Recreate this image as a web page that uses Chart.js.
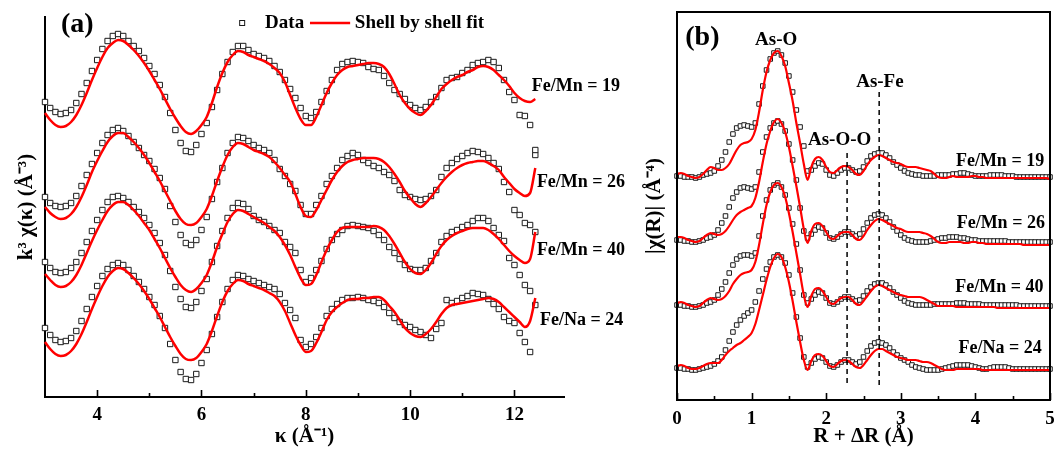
<!DOCTYPE html>
<html>
<head>
<meta charset="utf-8">
<title>EXAFS fits</title>
<script src="https://cdn.jsdelivr.net/npm/chart.js@4.4.0/dist/chart.umd.min.js"></script>
<style>
  html, body { margin: 0; padding: 0; background: #fff; }
  #wrap { position: relative; width: 1056px; height: 449px; overflow: hidden; }
  canvas { position: absolute; top: 0; }
  #chartK { left: 0; }
  #chartR { left: 630px; }
</style>
</head>
<body>
<div id="wrap">
  <canvas id="chartK" width="640" height="449"></canvas>
  <canvas id="chartR" width="426" height="449"></canvas>
</div>
<script>
// ---- (a) k-space: k^3 chi(k), curves stacked by offset ----
const kGrid = [3.0,3.1,3.2,3.3,3.4,3.5,3.6,3.7,3.8,3.9,
  4.0,4.1,4.2,4.3,4.4,4.5,4.6,4.7,4.8,4.9,
  5.0,5.1,5.2,5.3,5.4,5.5,5.6,5.7,5.8,5.9,
  6.0,6.1,6.2,6.3,6.4,6.5,6.6,6.7,6.8,6.9,
  7.0,7.1,7.2,7.3,7.4,7.5,7.6,7.7,7.8,7.9,
  8.0,8.1,8.2,8.3,8.4,8.5,8.6,8.7,8.8,8.9,
  9.0,9.1,9.2,9.3,9.4,9.5,9.6,9.7,9.8,9.9,
  10.0,10.1,10.2,10.3,10.4,10.5,10.6,10.7,10.8,10.9,
  11.0,11.1,11.2,11.3,11.4,11.5,11.6,11.7,11.8,11.9,
  12.0,12.1,12.2,12.3,12.4];

const kData19 = [-1.5,-2.1,-2.5,-2.7,-2.6,-2.3,-1.6,-0.7,0.4,1.6,
  2.7,3.8,4.6,5.1,5.3,5.1,4.6,4.1,3.6,2.9,
  2.1,1.3,0.2,-1.0,-2.6,-4.3,-5.6,-6.4,-6.5,-5.8,
  -4.7,-3.6,-2.0,-0.3,1.3,2.5,3.5,4.1,4.1,3.7,
  3.3,3.1,2.9,2.6,2.1,1.5,0.7,-0.2,-1.1,-2.1,
  -2.9,-3.1,-2.5,-1.5,-0.4,0.7,1.7,2.3,2.5,2.6,
  2.5,2.4,2.0,1.8,1.7,1.1,0.4,-0.3,-0.7,-1.2,
  -1.8,-2.1,-2.3,-2.0,-1.5,-1.0,-0.1,0.7,0.9,1.0,
  1.4,1.7,2.2,2.4,2.5,2.7,2.5,1.9,0.7,-0.5,
  -1.3,-2.8,-2.9,-3.8,-6.3];
const kFit19 = [-2.6,-3.3,-3.8,-4.0,-3.9,-3.5,-2.8,-1.8,-0.6,0.7,
  1.9,3.0,3.9,4.4,4.7,4.6,4.2,3.7,3.1,2.4,
  1.6,0.7,-0.2,-1.2,-2.2,-3.1,-3.9,-4.5,-4.7,-4.4,
  -3.8,-3.0,-1.6,0.0,1.4,2.5,3.2,3.6,3.5,3.2,
  3.0,2.8,2.6,2.3,1.9,1.4,0.5,-0.8,-2.1,-3.2,
  -3.8,-3.8,-3.0,-1.8,-0.6,0.4,1.2,1.7,2.0,2.1,
  2.2,2.3,2.4,2.4,2.3,2.0,1.3,0.3,-0.8,-1.6,
  -2.2,-2.6,-2.8,-2.4,-1.8,-1.0,-0.2,0.3,0.7,1.0,
  1.2,1.5,1.7,2.0,2.1,2.0,1.7,1.2,0.7,0.1,
  -0.6,-1.1,-1.4,-1.5,-1.2];

const kData26 = [-1.6,-2.2,-2.5,-2.6,-2.5,-2.2,-1.5,-0.5,0.6,1.7,
  2.8,3.8,4.6,5.1,5.3,5.0,4.5,3.9,3.3,2.6,
  2.0,1.2,0.3,-0.8,-2.5,-4.1,-5.4,-6.2,-6.4,-5.9,
  -4.9,-3.6,-1.8,-0.1,1.3,2.8,3.8,4.4,4.3,4.0,
  3.6,3.3,3.1,2.8,2.1,1.2,0.5,-0.3,-1.0,-2.4,
  -3.3,-3.3,-2.4,-1.5,-0.3,0.5,1.3,2.1,2.5,2.8,
  2.6,2.1,1.8,1.5,1.3,0.9,0.6,0.0,-0.9,-1.4,
  -1.6,-1.8,-1.9,-1.8,-1.5,-0.9,0.4,1.3,1.8,2.2,
  2.5,2.8,3.0,2.9,2.7,2.3,1.8,1.2,-0.1,-1.1,
  -2.9,-3.4,-4.2,-4.4,2.6];
const kFit26 = [-2.6,-3.2,-3.6,-3.8,-3.7,-3.3,-2.6,-1.6,-0.4,0.9,
  2.0,3.0,3.9,4.5,4.8,4.8,4.4,3.9,3.3,2.6,
  1.8,0.9,0.0,-1.0,-2.0,-3.0,-3.8,-4.3,-4.4,-4.2,
  -3.6,-2.8,-1.5,0.0,1.4,2.6,3.4,3.8,3.7,3.4,
  3.1,2.9,2.7,2.4,1.9,1.3,0.6,-0.1,-1.3,-2.6,
  -3.5,-3.6,-2.9,-1.9,-0.9,0.1,0.9,1.5,1.9,2.1,
  2.2,2.3,2.3,2.3,2.2,1.9,1.4,0.7,-0.1,-1.0,
  -1.7,-2.3,-2.6,-2.2,-1.6,-0.9,-0.2,0.4,0.9,1.3,
  1.6,1.8,1.9,2.0,2.0,1.8,1.5,1.1,0.4,-0.2,
  -0.8,-1.2,-1.5,-1.2,1.3];

const kData40 = [-1.8,-2.4,-2.8,-2.9,-2.8,-2.4,-1.8,-0.9,0.2,1.3,
  2.4,3.4,4.2,4.7,4.8,4.6,4.2,3.7,3.2,2.6,
  1.9,1.1,0.1,-1.1,-2.7,-4.3,-5.5,-6.3,-6.4,-5.8,
  -4.7,-3.5,-1.8,-0.2,1.3,2.6,3.6,4.1,4.0,3.5,
  2.8,2.4,2.2,1.8,1.4,1.1,0.2,-0.3,-0.9,-2.6,
  -3.8,-3.4,-2.6,-1.7,-0.5,0.4,1.0,1.4,1.8,1.9,
  1.8,1.7,1.6,1.3,0.9,0.4,-0.3,-0.9,-1.5,-2.1,
  -2.5,-2.6,-2.6,-2.4,-1.7,-0.9,0.2,0.8,1.2,1.4,
  1.7,1.9,2.3,2.6,2.6,2.3,1.6,0.9,0.3,-1.4,
  -2.1,-3.1,-4.1,-4.7,1.2];
const kFit40 = [-3.0,-3.6,-4.1,-4.3,-4.2,-3.8,-3.1,-2.1,-0.9,0.3,
  1.4,2.4,3.3,3.9,4.2,4.2,3.9,3.4,2.8,2.1,
  1.4,0.5,-0.4,-1.4,-2.4,-3.3,-4.1,-4.6,-4.8,-4.5,
  -3.9,-3.1,-1.8,-0.3,1.0,2.2,3.0,3.4,3.3,3.0,
  2.7,2.4,2.1,1.7,1.3,0.7,-0.1,-1.1,-2.3,-3.4,
  -4.1,-4.0,-3.1,-1.8,-0.6,0.4,1.2,1.6,1.7,1.7,
  1.7,1.7,1.7,1.8,1.7,1.4,0.8,0.0,-0.9,-1.8,
  -2.5,-2.9,-3.0,-2.6,-1.9,-1.0,-0.2,0.4,0.8,1.1,
  1.3,1.5,1.6,1.6,1.6,1.4,1.0,0.5,-0.1,-0.7,
  -1.2,-1.6,-1.9,-1.5,1.2];

const kDataNa = [-1.3,-2.0,-2.5,-2.7,-2.6,-2.3,-1.6,-0.6,0.6,1.8,
  2.9,3.9,4.6,5.0,5.2,5.0,4.5,3.9,3.3,2.6,
  1.8,1.0,-0.1,-1.3,-2.9,-4.5,-5.7,-6.4,-6.5,-5.9,
  -4.8,-3.5,-1.9,-0.2,1.3,2.6,3.5,4.0,3.9,3.6,
  3.4,3.2,3.0,2.8,2.6,2.1,1.2,0.5,-0.3,-2.5,
  -3.2,-2.9,-2.2,-1.3,-0.1,0.6,1.1,1.5,1.7,1.7,
  1.8,1.7,1.5,1.4,1.2,0.8,0.2,-0.3,-0.7,-1.0,
  -1.2,-1.5,-1.7,-2.0,-2.3,-1.4,-0.8,1.5,1.2,1.4,
  1.7,1.9,2.2,2.1,2.0,1.6,1.1,0.6,-0.2,-0.6,
  -0.8,-1.8,-2.7,-3.7,1.0];
const kFitNa = [-2.7,-3.4,-3.9,-4.1,-4.0,-3.6,-2.9,-1.9,-0.7,0.6,
  1.8,2.9,3.8,4.4,4.7,4.6,4.2,3.7,3.1,2.4,
  1.6,0.7,-0.2,-1.2,-2.2,-3.1,-3.9,-4.4,-4.5,-4.3,
  -3.7,-2.9,-1.6,-0.1,1.3,2.4,3.1,3.5,3.4,3.1,
  2.9,2.7,2.5,2.2,1.9,1.3,0.4,-0.8,-2.0,-3.0,
  -3.7,-3.6,-2.8,-1.7,-0.5,0.3,0.8,1.2,1.5,1.6,
  1.6,1.7,1.7,1.8,1.8,1.5,0.9,0.3,-0.5,-1.3,
  -1.8,-2.1,-2.2,-1.9,-1.4,-0.7,0.1,0.7,1.0,1.1,
  1.2,1.3,1.4,1.5,1.6,1.7,1.6,1.3,0.8,0.3,
  -0.2,-0.7,-1.2,-0.6,1.7];

const kOffsets = [31.0, 21.6, 15.3, 8.2];
const kTicks = [4, 6, 8, 10, 12];
const kMinorTicks = [5, 7, 9, 11];

// ---- (b) R-space: |chi(R)| ----
const rGrid = [0,0.05,0.1,0.15,0.2,0.25,0.3,0.35,0.4,0.45,
  0.5,0.55,0.6,0.65,0.7,0.75,0.8,0.85,0.9,0.95,
  1.0,1.05,1.1,1.15,1.2,1.25,1.3,1.35,1.4,1.45,
  1.5,1.55,1.6,1.65,1.7,1.75,1.8,1.85,1.9,1.95,
  2.0,2.05,2.1,2.15,2.2,2.25,2.3,2.35,2.4,2.45,
  2.5,2.55,2.6,2.65,2.7,2.75,2.8,2.85,2.9,2.95,
  3.0,3.05,3.1,3.15,3.2,3.25,3.3,3.35,3.4,3.45,
  3.5,3.55,3.6,3.65,3.7,3.75,3.8,3.85,3.9,3.95,
  4.0,4.05,4.1,4.15,4.2,4.25,4.3,4.35,4.4,4.45,
  4.5,4.55,4.6,4.65,4.7,4.75,4.8,4.85,4.9,4.95,5.0];

const rData19 = [0,0,-0.1,-0.1,-0.1,-0.2,-0.1,0.1,0.2,0.3,
  0.5,1.0,1.6,2.4,3.4,4.2,4.8,5.0,5.1,5.0,
  4.9,5.3,7.2,9.0,10.6,11.7,12.3,12.5,12.1,11.3,
  10.0,8.4,6.6,4.9,3.0,0.5,0.6,1.0,1.3,1.2,
  0.6,0.1,0.0,0.3,0.6,0.8,0.8,0.6,0.4,0.5,
  0.9,1.5,2.0,2.2,2.3,2.3,2.1,1.8,1.4,1.1,
  0.8,0.5,0.3,0.2,0.1,0.1,0.0,0.0,0.0,0.0,
  0.1,0.1,0.1,0.1,0.2,0.2,0.3,0.3,0.2,0.1,
  0.0,0.0,0.0,0.0,0.1,0.1,0.1,0.1,0.0,0.0,
  0.0,-0.1,-0.1,-0.1,-0.1,-0.1,-0.1,-0.1,-0.1,-0.1,-0.1];
const rFit19 = [0.2,0.3,0.2,0.0,-0.1,-0.2,-0.1,0.2,0.6,0.9,
  0.8,0.6,0.6,0.8,1.2,1.9,2.6,3.1,3.3,3.4,
  3.7,4.6,6.4,8.6,10.4,11.6,12.3,12.5,12.0,11.0,
  9.3,7.5,5.3,3.3,1.2,-0.4,0.9,1.7,1.9,1.6,
  0.9,0.4,0.3,0.6,0.9,1.0,0.9,0.6,0.2,0.1,
  0.5,1.1,1.6,1.9,2.1,2.0,1.8,1.6,1.4,1.3,
  1.2,1.0,0.9,0.9,0.9,0.8,0.7,0.6,0.5,0.2,
  -0.1,-0.2,-0.2,-0.1,0.0,-0.1,-0.1,-0.1,-0.1,0.0,
  0.0,-0.1,-0.1,-0.2,-0.2,-0.2,-0.2,-0.2,-0.2,-0.2,
  -0.2,-0.2,-0.2,-0.2,-0.2,-0.2,-0.2,-0.2,-0.2,-0.2,-0.3];

const rData26 = [0,0,-0.1,-0.1,-0.2,-0.2,-0.1,0.0,0.2,0.3,
  0.5,1.0,1.7,2.4,3.3,4.2,4.8,5.2,5.3,5.2,
  5.1,5.3,6.8,8.8,10.3,11.2,11.7,11.9,11.6,10.9,
  9.6,8.0,6.0,3.2,0.9,0.2,0.6,1.0,1.3,1.2,
  0.7,0.2,0.1,0.3,0.6,0.8,0.8,0.6,0.4,0.6,
  1.1,1.7,2.2,2.5,2.6,2.5,2.2,1.8,1.3,0.9,
  0.5,0.2,0.0,-0.1,-0.2,-0.2,-0.2,-0.2,-0.1,0.0,
  0.1,0.2,0.2,0.3,0.3,0.3,0.2,0.2,0.1,0.0,
  0.0,-0.1,-0.1,-0.1,-0.1,-0.1,-0.1,-0.1,-0.1,-0.2,
  -0.2,-0.2,-0.2,-0.2,-0.2,-0.2,-0.2,-0.2,-0.2,-0.2,-0.2];
const rFit26 = [0.3,0.3,0.2,0.0,-0.1,-0.2,-0.1,0.2,0.5,0.7,
  0.6,0.5,0.6,0.9,1.4,2.0,2.5,2.8,3.0,3.2,
  3.4,4.2,5.8,7.8,9.6,10.9,11.8,12.1,11.7,10.8,
  9.3,7.4,5.4,3.3,1.1,-0.3,0.9,1.6,1.7,1.4,
  0.8,0.2,0.1,0.4,0.7,0.8,0.8,0.5,0.1,0.0,
  0.4,1.0,1.5,1.9,2.1,2.0,1.8,1.6,1.4,1.2,
  1.1,0.9,0.8,0.8,0.8,0.8,0.7,0.6,0.4,0.1,
  -0.2,-0.3,-0.3,-0.2,-0.2,-0.2,-0.2,-0.3,-0.3,-0.2,
  -0.2,-0.3,-0.3,-0.4,-0.4,-0.4,-0.4,-0.4,-0.4,-0.4,
  -0.4,-0.4,-0.4,-0.5,-0.5,-0.5,-0.5,-0.5,-0.5,-0.5,-0.5];

const rData40 = [0,0,-0.1,-0.1,-0.2,-0.2,-0.1,0.0,0.2,0.3,
  0.5,1.0,1.6,2.3,3.2,4.0,4.6,4.9,5.0,5.0,
  4.9,5.2,6.9,8.9,10.5,11.5,12.0,12.2,11.8,11.0,
  9.7,8.1,6.1,3.5,1.0,0.2,0.6,1.0,1.3,1.2,
  0.7,0.2,0.1,0.3,0.6,0.8,0.8,0.6,0.4,0.5,
  0.9,1.4,1.8,2.1,2.2,2.2,2.0,1.7,1.3,1.0,
  0.7,0.4,0.2,0.1,0.0,0.0,0.0,0.0,0.0,0.1,
  0.1,0.1,0.1,0.1,0.1,0.2,0.2,0.2,0.1,0.1,
  0.1,0.1,0.0,0.0,0.0,0.0,0.0,0.0,0.0,0.0,
  0.0,0.0,-0.1,-0.1,-0.1,-0.1,-0.1,-0.1,-0.1,-0.1,-0.1];
const rFit40 = [0.2,0.3,0.2,0.0,-0.1,-0.2,-0.1,0.2,0.5,0.7,
  0.6,0.5,0.6,0.9,1.4,2.1,2.6,3.0,3.2,3.3,
  3.5,4.3,6.0,8.1,10.0,11.3,12.0,12.2,11.8,10.8,
  9.2,7.3,5.2,3.1,1.0,-0.2,0.9,1.6,1.7,1.4,
  0.8,0.2,0.1,0.4,0.7,0.8,0.8,0.5,0.1,0.0,
  0.4,0.9,1.4,1.8,2.0,1.9,1.7,1.5,1.3,1.1,
  1.0,0.9,0.8,0.8,0.8,0.8,0.7,0.5,0.3,0.1,
  -0.1,-0.1,-0.1,-0.1,-0.1,-0.2,-0.2,-0.2,-0.2,-0.2,
  -0.2,-0.2,-0.2,-0.2,-0.2,-0.2,-0.3,-0.3,-0.3,-0.3,
  -0.3,-0.3,-0.3,-0.3,-0.3,-0.3,-0.3,-0.3,-0.3,-0.3,-0.3];

const rDataNa = [0,0,-0.1,-0.1,-0.2,-0.2,-0.1,0.0,0.1,0.2,
  0.4,0.7,1.1,1.8,2.7,3.6,4.3,4.8,5.2,5.5,
  5.8,6.6,7.7,8.9,9.9,10.6,11.1,11.3,11.1,10.5,
  9.3,7.5,5.1,3.0,1.1,0.1,0.5,0.9,1.1,1.0,
  0.6,0.2,0.1,0.3,0.6,0.8,0.8,0.6,0.4,0.6,
  1.1,1.7,2.2,2.5,2.6,2.5,2.3,2.0,1.6,1.3,
  1.0,0.8,0.6,0.3,0.1,0.0,-0.1,-0.2,-0.2,-0.2,
  -0.2,-0.1,0.0,0.1,0.2,0.3,0.3,0.3,0.3,0.2,
  0.1,0.0,-0.1,-0.1,0.0,0.1,0.1,0.1,0.1,0.0,
  -0.1,-0.1,-0.1,-0.1,-0.1,-0.1,-0.1,-0.1,-0.1,-0.1,-0.1];
const rFitNa = [0.2,0.3,0.2,0.0,-0.1,-0.1,0.0,0.2,0.4,0.5,
  0.5,0.5,0.8,1.3,1.7,2.0,2.3,2.5,2.8,3.1,
  3.5,4.4,5.8,7.3,8.8,10.1,11.0,11.4,11.1,10.1,
  8.6,6.7,4.6,2.6,0.8,-0.2,0.7,1.3,1.4,1.2,
  0.7,0.2,0.1,0.4,0.7,0.8,0.7,0.4,0.1,0.0,
  0.3,0.8,1.3,1.7,1.9,1.9,1.7,1.5,1.3,1.1,
  1.0,0.9,0.8,0.8,0.8,0.7,0.6,0.6,0.5,0.3,
  0.1,-0.1,-0.2,-0.2,-0.2,-0.1,-0.1,-0.1,-0.1,-0.1,
  -0.1,-0.1,-0.2,-0.2,-0.2,-0.2,-0.2,-0.2,-0.2,-0.2,
  -0.2,-0.2,-0.2,-0.2,-0.2,-0.2,-0.2,-0.2,-0.2,-0.2,-0.2];

const rOffsets = [22.4, 16.0, 9.5, 3.2];
const rTicks = [0, 1, 2, 3, 4, 5];
const rMinorTicks = [0.5, 1.5, 2.5, 3.5, 4.5];

// shell positions marked with dashed lines
const shellR = [2.28, 2.71];
const shellTop = [24.7, 30.8];
const shellBottom = 1.5;

const sampleNames = ['Fe/Mn = 19', 'Fe/Mn = 26', 'Fe/Mn = 40', 'Fe/Na = 24'];

const SERIF = "'Liberation Serif', 'Times New Roman', serif";
const RED = '#ff0000';
Chart.defaults.font.family = SERIF;
Chart.defaults.color = '#000';

function stack(xs, ys, off) {
  return xs.map((x, i) => ({ x: x, y: ys[i] + off }));
}

function dataSet(xs, ys, off, r) {
  return {
    data: stack(xs, ys, off), showLine: false, order: 2, clip: false,
    pointStyle: 'rect', pointRadius: r, pointBorderWidth: 1,
    pointBorderColor: '#1a1a1a', pointBackgroundColor: '#fff'
  };
}

function fitSet(xs, ys, off, w) {
  return {
    data: stack(xs, ys, off), showLine: true, order: 1, clip: false,
    borderColor: RED, borderWidth: w, pointRadius: 0,
    cubicInterpolationMode: 'monotone'
  };
}

// keep the plot box exactly where the layout padding puts it
function noEdgePad(s) {
  s.paddingLeft = 0;
  s.paddingRight = 0;
}

// inward tick marks, frame, dashed markers and text labels
const decor = {
  id: 'decor',
  afterDatasetsDraw(chart, args, o) {
    const { ctx, chartArea: a, scales: { x, y } } = chart;
    ctx.save();
    ctx.strokeStyle = '#000';
    ctx.lineWidth = 1.6;
    const tick = (v, len) => {
      const px = Math.round(x.getPixelForValue(v)) + 0.5;
      ctx.beginPath(); ctx.moveTo(px, a.bottom); ctx.lineTo(px, a.bottom - len); ctx.stroke();
    };
    o.major.forEach(v => tick(v, 7));
    o.minor.forEach(v => tick(v, 4));
    if (o.box) {
      ctx.lineWidth = 2;
      ctx.strokeRect(a.left, a.top, a.width, a.height);
    }
    (o.dashes || []).forEach(d => {
      const px = x.getPixelForValue(d.x);
      ctx.lineWidth = 1.5;
      ctx.setLineDash([5, 4]);
      ctx.beginPath();
      ctx.moveTo(px, y.getPixelForValue(d.top));
      ctx.lineTo(px, y.getPixelForValue(d.bottom));
      ctx.stroke();
    });
    ctx.setLineDash([]);
    if (o.legend) {
      const L = o.legend;
      const sx = x.getPixelForValue(L.markX), sy = y.getPixelForValue(L.y);
      ctx.lineWidth = 1;
      ctx.strokeStyle = '#1a1a1a';
      ctx.strokeRect(sx - 2.5, sy - 2.5, 5, 5);
      ctx.strokeStyle = RED;
      ctx.lineWidth = 2.5;
      ctx.beginPath();
      ctx.moveTo(x.getPixelForValue(L.lineX[0]), sy);
      ctx.lineTo(x.getPixelForValue(L.lineX[1]), sy);
      ctx.stroke();
    }
    ctx.fillStyle = '#000';
    ctx.textBaseline = 'middle';
    o.labels.forEach(l => {
      ctx.font = 'bold ' + l.size + 'px ' + SERIF;
      ctx.textAlign = l.align || 'center';
      ctx.fillText(l.text, x.getPixelForValue(l.x), y.getPixelForValue(l.y));
    });
    ctx.restore();
  }
};

const tickFont = { family: SERIF, size: 19, weight: 'bold' };
const titleFont = { family: SERIF, size: 21, weight: 'bold' };

// ---------- panel (a) ----------
const dsK = [];
[[kData19, kFit19], [kData26, kFit26], [kData40, kFit40], [kDataNa, kFitNa]].forEach((p, i) => {
  dsK.push(dataSet(kGrid, p[0], kOffsets[i], 3.8));
  dsK.push(fitSet(kGrid, p[1], kOffsets[i], 2.5));
});

new Chart(document.getElementById('chartK'), {
  type: 'scatter',
  data: { datasets: dsK },
  plugins: [decor],
  options: {
    responsive: false, animation: false, devicePixelRatio: 1,
    layout: { padding: { top: 17, right: 76, left: 0, bottom: 0 } },
    plugins: {
      legend: { display: false }, tooltip: { enabled: false },
      decor: {
        major: kTicks, minor: kMinorTicks, box: false,
        legend: { markX: 6.78, y: 37.4, lineX: [8.08, 8.85] },
        labels: [
          { text: '(a)', x: 3.62, y: 37.2, size: 28 },
          { text: 'Data', x: 7.22, y: 37.4, size: 19, align: 'left' },
          { text: 'Shell by shell fit', x: 8.94, y: 37.4, size: 19, align: 'left' },
          { text: sampleNames[0], x: 12.33, y: 31.1, size: 18, align: 'left' },
          { text: sampleNames[1], x: 12.43, y: 21.5, size: 18, align: 'left' },
          { text: sampleNames[2], x: 12.43, y: 14.7, size: 18, align: 'left' },
          { text: sampleNames[3], x: 12.49, y: 7.7, size: 18, align: 'left' }
        ]
      }
    },
    scales: {
      x: {
        type: 'linear', min: 3, max: 12.95,
        afterBuildTicks: s => { s.ticks = kTicks.map(v => ({ value: v })); },
        afterFit: s => { s.height = 52; noEdgePad(s); },
        grid: { display: false, drawTicks: false },
        border: { display: true, color: '#000', width: 2 },
        ticks: { font: tickFont, color: '#000', padding: 7, maxRotation: 0, autoSkip: false },
        title: { display: true, text: 'κ (Å⁻¹)', font: titleFont, color: '#000', padding: { top: 0, bottom: 0 } }
      },
      y: {
        type: 'linear', min: 0, max: 38,
        afterFit: s => { s.width = 45; },
        grid: { display: false, drawTicks: false },
        border: { display: true, color: '#000', width: 2 },
        ticks: { display: false },
        title: { display: true, text: 'k³ χ(κ) (Å⁻³)', font: titleFont, color: '#000', padding: { top: 14, bottom: 0 } }
      }
    }
  }
});

// ---------- panel (b) ----------
const dsR = [];
[[rData19, rFit19], [rData26, rFit26], [rData40, rFit40], [rDataNa, rFitNa]].forEach((p, i) => {
  dsR.push(dataSet(rGrid, p[0], rOffsets[i], 3.2));
  dsR.push(fitSet(rGrid, p[1], rOffsets[i], 2.2));
});

new Chart(document.getElementById('chartR'), {
  type: 'scatter',
  data: { datasets: dsR },
  plugins: [decor],
  options: {
    responsive: false, animation: false, devicePixelRatio: 1,
    layout: { padding: { top: 12, right: 6, left: 0, bottom: 0 } },
    plugins: {
      legend: { display: false }, tooltip: { enabled: false },
      decor: {
        major: rTicks, minor: rMinorTicks, box: true,
        dashes: shellR.map((r, i) => ({ x: r, top: shellTop[i], bottom: shellBottom })),
        labels: [
          { text: '(b)', x: 0.34, y: 36.2, size: 28 },
          { text: 'As-O', x: 1.33, y: 36.0, size: 19 },
          { text: 'As-O-O', x: 2.18, y: 26.0, size: 19 },
          { text: 'As-Fe', x: 2.72, y: 31.8, size: 19 },
          { text: sampleNames[0], x: 4.33, y: 23.9, size: 18 },
          { text: sampleNames[1], x: 4.34, y: 17.7, size: 18 },
          { text: sampleNames[2], x: 4.32, y: 11.3, size: 18 },
          { text: sampleNames[3], x: 4.33, y: 5.2, size: 18 }
        ]
      }
    },
    scales: {
      x: {
        type: 'linear', min: 0, max: 5,
        afterBuildTicks: s => { s.ticks = rTicks.map(v => ({ value: v })); },
        afterFit: s => { s.height = 49; noEdgePad(s); },
        grid: { display: false, drawTicks: false },
        border: { display: false },
        ticks: { font: tickFont, color: '#000', padding: 8, maxRotation: 0, autoSkip: false },
        title: { display: true, text: 'R + ΔR (Å)', font: titleFont, color: '#000', padding: { top: 0, bottom: 0 } }
      },
      y: {
        type: 'linear', min: 0, max: 38.8,
        afterFit: s => { s.width = 47; },
        grid: { display: false, drawTicks: false },
        border: { display: false },
        ticks: { display: false },
        title: { display: true, text: '|χ(R)| (Å⁻⁴)', font: titleFont, color: '#000', padding: { top: 12, bottom: 0 } }
      }
    }
  }
});
</script>
</body>
</html>
